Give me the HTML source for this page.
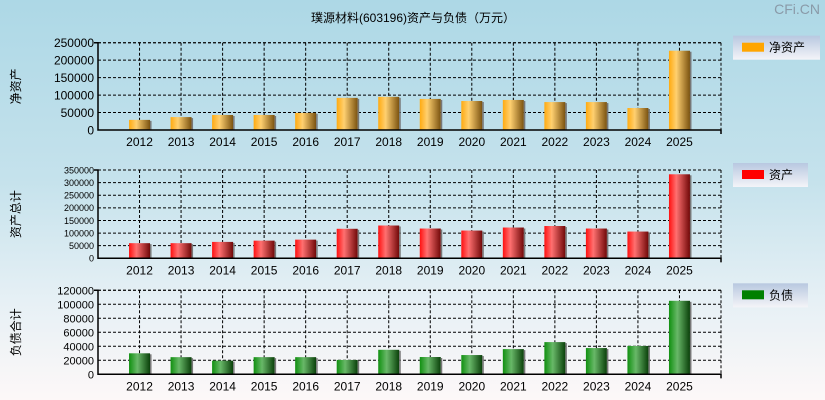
<!DOCTYPE html>
<html><head><meta charset="utf-8"><style>
html,body{margin:0;padding:0}
body{width:825px;height:400px;overflow:hidden;background:linear-gradient(#add8e6 0%,#c5e2ec 45%,#e6f0f5 75%,#fdf8f8 100%);font-family:"Liberation Sans","Noto Sans CJK SC",sans-serif}
svg{display:block}
</style></head><body>
<svg id="c" width="825" height="400" xmlns="http://www.w3.org/2000/svg">
<defs>
<linearGradient id="gO" x1="0" x2="1"><stop offset="0" stop-color="#ffaa10"/><stop offset="0.35" stop-color="#ffd070"/><stop offset="1" stop-color="#7a5210"/></linearGradient>
<linearGradient id="gR" x1="0" x2="1"><stop offset="0" stop-color="#ff1010"/><stop offset="0.35" stop-color="#ff7070"/><stop offset="1" stop-color="#700808"/></linearGradient>
<linearGradient id="gG" x1="0" x2="1"><stop offset="0" stop-color="#109010"/><stop offset="0.4" stop-color="#68b868"/><stop offset="1" stop-color="#0a400a"/></linearGradient>
<linearGradient id="gL" x1="0" y1="0" x2="0" y2="1"><stop offset="0" stop-color="#b8c8e0"/><stop offset="1" stop-color="#f4f4f8"/></linearGradient>
</defs>
<text x="413" y="22" font-size="12" text-anchor="middle" fill="#000">璞源材料(603196)资产与负债（万元）</text>
<text x="820" y="14" font-size="14" text-anchor="end" fill="#8a9aa8">CFi.CN</text>
</svg>
<script>
const years=['2012','2013','2014','2015','2016','2017','2018','2019','2020','2021','2022','2023','2024','2025'];
const netAssets=[29000,37000,43000,43000,49000,92000,95000,89000,83000,86000,80000,80000,63000,227000];
const totalAssets=[60000,60000,65000,70000,74000,117000,130000,118000,110000,122000,128000,118000,106000,333000];
const liabilities=[30000,24500,19500,24500,24500,20500,35000,24700,27500,36000,46000,37500,40500,105000];
const ticks1=[0,50000,100000,150000,200000,250000];
const ticks2=[0,50000,100000,150000,200000,250000,300000,350000];
const ticks3=[0,20000,40000,60000,80000,100000,120000];
const svg=document.getElementById('c');
const NS='http://www.w3.org/2000/svg';
function mk(t,a){const e=document.createElementNS(NS,t);for(const k in a)e.setAttribute(k,a[k]);svg.appendChild(e);return e;}
const X0=98,X1=721,step=(X1-X0)/15;
function xs(i){return X0+step*(i+1);}
function panel(key,top,bot,ticks,vals,fill,legFill,legText,ytitle,fs){
  const max=ticks[ticks.length-1];
  const ys=v=>bot-(v/max)*(bot-top);
  ticks.forEach(t=>{
    if(t>0){const g=mk('line',{x1:X0,x2:X1,y1:ys(t),y2:ys(t),stroke:'#000','stroke-dasharray':'3,2','stroke-width':1});
    
    }
    const l=mk('text',{x:X0-4,y:ys(t)+fs*0.37,'font-size':fs,'text-anchor':'end',fill:'#000'});
    l.textContent=t;
    
    
  });
  years.forEach((y,i)=>{
    const g=mk('line',{x1:xs(i),x2:xs(i),y1:top,y2:bot,stroke:'#000','stroke-dasharray':'3,2'});
    
    
    const h=bot-ys(vals[i]);
    const b=mk('rect',{x:xs(i)-10.5,y:ys(vals[i]),width:21,height:h,fill:fill});
    
    
    const s=mk('rect',{x:xs(i)+10.5,y:ys(vals[i])+1,width:1.5,height:h-1,fill:'#777'});
    
    
    const t=mk('text',{x:xs(i),y:bot+16,'font-size':12,'text-anchor':'middle',fill:'#000'});
    t.textContent=y;
    
    
  });
  const r=mk('line',{x1:X1,x2:X1,y1:top,y2:bot+4,stroke:'#000','stroke-dasharray':'3,2'});
  
  
  const t1=mk('line',{x1:X0,x2:X1,y1:top,y2:top,stroke:'#000','stroke-dasharray':'3,2'});
  
  
  const ax=mk('path',{d:`M${X0-4} ${top}H${X0}V${bot}H${X1}V${bot+4}`,stroke:'#000',fill:'none','stroke-width':1.5});
  
  
  const lb=mk('rect',{x:733,y:top-7,width:legText.length>2?87:75,height:24,fill:'url(#gL)'});
  
  
  const ls=mk('rect',{x:742,y:top+0,width:22,height:9,fill:legFill});
  
  
  const lt=mk('text',{x:769,y:top+9,'font-size':12,fill:'#000'});
  lt.textContent=legText;
  
  
  const cy=(top+bot)/2;
  const yt=mk('text',{x:0,y:0,'font-size':12,'text-anchor':'middle',fill:'#000',transform:`translate(20,${cy}) rotate(-90)`});
  yt.textContent=ytitle;
  
  
}
panel('net-assets',42.7,130,ticks1,netAssets,'url(#gO)','#ffa500','净资产','净资产',12);
panel('total-assets',170,258.3,ticks2,totalAssets,'url(#gR)','#ff0000','资产','资产总计',9);
panel('liabilities',290.3,374.3,ticks3,liabilities,'url(#gG)','#008000','负债','负债合计',11);
</script>
</body></html>
